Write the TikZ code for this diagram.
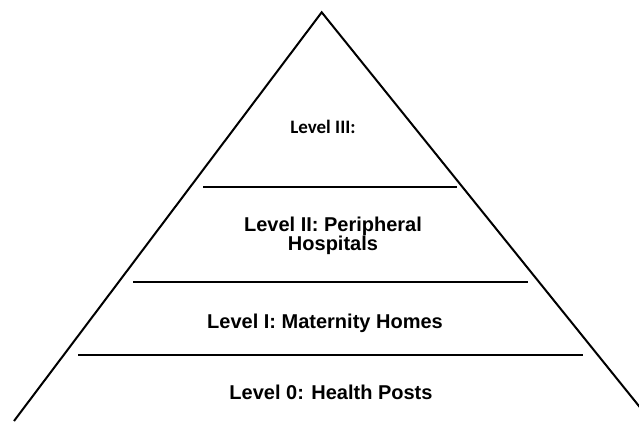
\documentclass[tikz,border=0pt]{standalone}
\usepackage{fontspec}
\setmainfont{Liberation Sans}
\newfontfamily\labelfont{Carlito}
\begin{document}
\begin{tikzpicture}[x=1pt,y=-1pt,
  edge/.style={line width=2pt,black},
  tier/.style={line width=2pt,black},
  tiertext/.style={font=\fontsize{20}{18.6}\selectfont\bfseries,align=center,inner sep=0pt},
  toptext/.style={font=\labelfont\fontsize{19}{20}\selectfont\bfseries,inner sep=0pt}]
  \useasboundingbox (0,0) rectangle (639,421);
  \clip (0,0) rectangle (639,421);
  % pyramid outline
  \coordinate (apex) at (321.7,12.3);
  \coordinate (bl) at (14,421);
  \coordinate (br) at (651,421);
  \draw[edge,line join=miter] (bl) -- (apex) -- (br);
  % tier separators
  \coordinate (l2a) at (203,186.5);
  \coordinate (l2b) at (457,186.5);
  \coordinate (l1a) at (133,281.5);
  \coordinate (l1b) at (528,281.5);
  \coordinate (l0a) at (78,354.5);
  \coordinate (l0b) at (583,354.5);
  \draw[tier] (l2a) -- (l2b);
  \draw[tier] (l1a) -- (l1b);
  \draw[tier] (l0a) -- (l0b);
  % tier labels
  \node[toptext] (t3) at (323,127) {Level III:};
  \node[tiertext] (t2) at (333,236) {Level II: Peripheral\\Hospitals};
  \node[tiertext] (t1) at (325,323) {Level I: Maternity Homes};
  \node[tiertext] (t0) at (331,392) {Level 0: Health Posts};
\end{tikzpicture}
\end{document}
